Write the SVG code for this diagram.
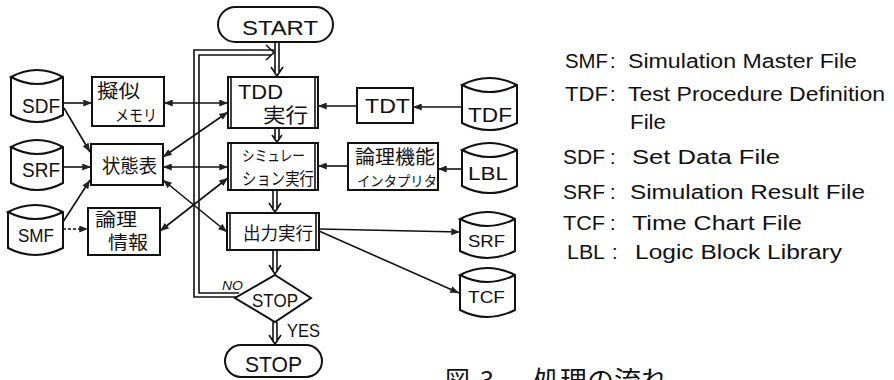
<svg xmlns="http://www.w3.org/2000/svg" width="894" height="380" viewBox="0 0 894 380">
<style>
.box{fill:#fff;stroke:#111;stroke-width:2}
.ln{fill:none;stroke:#111;stroke-width:1.6}
.dbl{fill:none;stroke:#111;stroke-width:1.6}
.t{font-family:"Liberation Sans","DejaVu Sans",sans-serif;fill:#111}
.j{font-family:"Noto Sans CJK JP","Noto Sans",sans-serif;fill:#111}
.lg{font-family:"Liberation Sans","DejaVu Sans",sans-serif;fill:#111;font-size:20px}
</style>
<defs>
<marker id="ah" viewBox="0 0 10 8" refX="10" refY="4" markerWidth="9" markerHeight="7" orient="auto-start-reverse" markerUnits="userSpaceOnUse">
<path d="M0,0 L10,4 L0,8 z" fill="#222"/>
</marker>
</defs>

<g id="connectors">
<path class="ln" d="M63,103 H92" marker-end="url(#ah)"/>
<path class="ln" d="M64,108 L90,152" marker-end="url(#ah)"/>
<path class="ln" d="M63,167 H91" marker-end="url(#ah)"/>
<path class="ln" d="M63,222 L90,180" marker-end="url(#ah)"/>
<path class="ln" d="M63,229 H88" stroke-dasharray="3 2" marker-end="url(#ah)"/>
<path class="ln" d="M164,103 H228" marker-start="url(#ah)" marker-end="url(#ah)"/>
<path class="ln" d="M163,157 L228,112" marker-start="url(#ah)" marker-end="url(#ah)"/>
<path class="ln" d="M163,167 H228" marker-start="url(#ah)" marker-end="url(#ah)"/>
<path class="ln" d="M163,180 L227,232" marker-start="url(#ah)" marker-end="url(#ah)"/>
<path class="ln" d="M160,231 L228,178" marker-start="url(#ah)" marker-end="url(#ah)"/>
<path class="ln" d="M357,106 H318" marker-end="url(#ah)"/>
<path class="ln" d="M462,107 H413" marker-end="url(#ah)"/>
<path class="ln" d="M348,166 H318" marker-end="url(#ah)"/>
<path class="ln" d="M462,169 H438" marker-end="url(#ah)"/>
<path class="ln" d="M319,229 L460,232" marker-end="url(#ah)"/>
<path class="ln" d="M319,231 L459,293" marker-end="url(#ah)"/>
<path class="dbl" d="M275,42 V73 M279,42 V73 M271,67 L277,76 L283,67"/>
<path class="dbl" d="M275,128 V140 M279,128 V140 M272,135 L277,142 L282,135"/>
<path class="dbl" d="M273,190 V210 M277,190 V210 M269,203 L275,212 L281,203"/>
<path class="dbl" d="M273,250 V272 M277,250 V272 M269,265 L275,274 L281,265"/>
<path class="dbl" d="M273,322 V342 M277,322 V342 M269,335 L275,344 L281,335"/>
<path class="dbl" d="M236,297 H194 V50 H274"/>
<path class="dbl" d="M239,293 H199 V55 H271"/>
<path class="dbl" d="M266,45 L274,52.5 L266,60"/>
<text class="t" x="222" y="290" font-size="13" font-style="italic" textLength="21" lengthAdjust="spacingAndGlyphs">NO</text>
<text class="t" x="287" y="337" font-size="18" textLength="33" lengthAdjust="spacingAndGlyphs">YES</text>
</g>

<g id="start">
<rect class="box" x="218" y="7" width="115" height="35" rx="17.5"/>
<text class="t" x="242" y="35" font-size="20" textLength="76" lengthAdjust="spacingAndGlyphs">START</text>
</g>
<g id="tdd">
<rect class="box" x="228" y="77" width="90" height="51"/>
<path class="ln" d="M231,77 V128 M315,77 V128"/>
<text class="t" x="238" y="99" font-size="20" textLength="45" lengthAdjust="spacingAndGlyphs">TDD</text>
<text class="j" x="263" y="123" font-size="20" textLength="45" lengthAdjust="spacingAndGlyphs">実行</text>
</g>
<g id="simulation">
<rect class="box" x="228" y="143" width="90" height="47"/>
<path class="ln" d="M231,143 V190 M315,143 V190"/>
<text class="j" x="242" y="161" font-size="15" textLength="63" lengthAdjust="spacingAndGlyphs">シミュレー</text>
<text class="j" x="242" y="185" font-size="17" textLength="72" lengthAdjust="spacingAndGlyphs">ション実行</text>
</g>
<g id="output">
<rect class="box" x="227" y="213" width="92" height="37"/>
<path class="ln" d="M230,213 V250 M316,213 V250"/>
<text class="j" x="243" y="240" font-size="18" textLength="70" lengthAdjust="spacingAndGlyphs">出力実行</text>
</g>
<g id="decision">
<polygon class="box" points="275,275 311,298 275,322 235,298"/>
<text class="t" x="252" y="307" font-size="18" textLength="46" lengthAdjust="spacingAndGlyphs">STOP</text>
</g>
<g id="stop">
<rect class="box" x="225" y="345" width="97" height="32" rx="16"/>
<text class="t" x="245" y="372" font-size="22" textLength="57" lengthAdjust="spacingAndGlyphs">STOP</text>
</g>

<g id="pseudo-memory">
<rect class="box" x="92" y="77" width="72" height="49"/>
<text class="j" x="97" y="98" font-size="19" textLength="43" lengthAdjust="spacingAndGlyphs">擬似</text>
<text class="j" x="115" y="121" font-size="16" textLength="42" lengthAdjust="spacingAndGlyphs">メモリ</text>
</g>
<g id="state-table">
<rect class="box" x="91" y="144" width="72" height="41"/>
<text class="j" x="102" y="173" font-size="19" textLength="55" lengthAdjust="spacingAndGlyphs">状態表</text>
</g>
<g id="logic-info">
<rect class="box" x="88" y="208" width="72" height="47"/>
<text class="j" x="95" y="226" font-size="18" textLength="42" lengthAdjust="spacingAndGlyphs">論理</text>
<text class="j" x="108" y="249" font-size="18" textLength="40" lengthAdjust="spacingAndGlyphs">情報</text>
</g>
<g id="tdt">
<rect class="box" x="357" y="88" width="56" height="35"/>
<text class="t" x="365" y="113" font-size="20" textLength="45" lengthAdjust="spacingAndGlyphs">TDT</text>
</g>
<g id="interpreter">
<rect class="box" x="348" y="143" width="90" height="47"/>
<text class="j" x="355" y="164" font-size="19" textLength="80" lengthAdjust="spacingAndGlyphs">論理機能</text>
<text class="j" x="357" y="186" font-size="14" textLength="80" lengthAdjust="spacingAndGlyphs">インタプリタ</text>
</g>

<g id="sdf">
<path class="box" d="M11,77 L11,115 Q37,129 63,115 L63,77 Q37,63 11,77 Q37,91 63,77"/>
<text class="t" x="22" y="113" font-size="20" textLength="38" lengthAdjust="spacingAndGlyphs">SDF</text>
</g>
<g id="srf-left">
<path class="box" d="M11,147 L11,183 Q37,197 63,183 L63,147 Q37,133 11,147 Q37,161 63,147"/>
<text class="t" x="22" y="177" font-size="20" textLength="38" lengthAdjust="spacingAndGlyphs">SRF</text>
</g>
<g id="smf">
<path class="box" d="M8,212 L8,248 Q35,262 63,248 L63,212 Q35,198 8,212 Q35,226 63,212"/>
<text class="t" x="18" y="242" font-size="19" textLength="36" lengthAdjust="spacingAndGlyphs">SMF</text>
</g>
<g id="tdf">
<path class="box" d="M462,85 L462,123 Q489,137 517,123 L517,85 Q489,71 462,85 Q489,99 517,85"/>
<text class="t" x="468" y="122" font-size="20" textLength="44" lengthAdjust="spacingAndGlyphs">TDF</text>
</g>
<g id="lbl">
<path class="box" d="M462,150 L462,186 Q489,200 517,186 L517,150 Q489,136 462,150 Q489,164 517,150"/>
<text class="t" x="468" y="180" font-size="19" textLength="40" lengthAdjust="spacingAndGlyphs">LBL</text>
</g>
<g id="srf-right">
<path class="box" d="M460,219 L460,251 Q487,265 515,251 L515,219 Q487,205 460,219 Q487,233 515,219"/>
<text class="t" x="468" y="247" font-size="17" textLength="37" lengthAdjust="spacingAndGlyphs">SRF</text>
</g>
<g id="tcf">
<path class="box" d="M460,275 L460,310 Q487,324 515,310 L515,275 Q487,261 460,275 Q487,289 515,275"/>
<text class="t" x="468" y="303" font-size="17" textLength="37" lengthAdjust="spacingAndGlyphs">TCF</text>
</g>

<g id="legend">
<text class="lg" x="565" y="68" textLength="43" lengthAdjust="spacingAndGlyphs">SMF</text><text class="lg" x="610" y="68">:</text>
<text class="lg" x="628" y="68" textLength="229" lengthAdjust="spacingAndGlyphs">Simulation Master File</text>
<text class="lg" x="565" y="101" textLength="43" lengthAdjust="spacingAndGlyphs">TDF</text><text class="lg" x="610" y="101">:</text>
<text class="lg" x="628" y="101" textLength="257" lengthAdjust="spacingAndGlyphs">Test Procedure Definition</text>
<text class="lg" x="630" y="129" textLength="36" lengthAdjust="spacingAndGlyphs">File</text>
<text class="lg" x="563" y="164" textLength="42" lengthAdjust="spacingAndGlyphs">SDF</text><text class="lg" x="610" y="164">:</text>
<text class="lg" x="632" y="164" textLength="148" lengthAdjust="spacingAndGlyphs">Set Data File</text>
<text class="lg" x="563" y="199" textLength="42" lengthAdjust="spacingAndGlyphs">SRF</text><text class="lg" x="610" y="199">:</text>
<text class="lg" x="630" y="199" textLength="235" lengthAdjust="spacingAndGlyphs">Simulation Result File</text>
<text class="lg" x="563" y="230" textLength="42" lengthAdjust="spacingAndGlyphs">TCF</text><text class="lg" x="610" y="230">:</text>
<text class="lg" x="632" y="230" textLength="170" lengthAdjust="spacingAndGlyphs">Time Chart File</text>
<text class="lg" x="567" y="259" textLength="38" lengthAdjust="spacingAndGlyphs">LBL</text><text class="lg" x="612" y="259">:</text>
<text class="lg" x="635" y="259" textLength="207" lengthAdjust="spacingAndGlyphs">Logic Block Library</text>
</g>

<g id="caption">
<text class="j" x="445" y="389" font-size="25">図</text>
<text class="j" x="480" y="389" font-size="25">3</text>
<text class="j" x="533" y="389" font-size="25" textLength="135" lengthAdjust="spacingAndGlyphs">処理の流れ</text>
</g>
</svg>
